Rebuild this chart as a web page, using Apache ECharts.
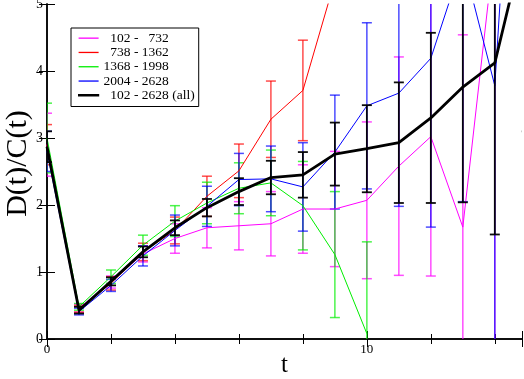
<!DOCTYPE html>
<html>
<head>
<meta charset="utf-8">
<script src="https://cdn.jsdelivr.net/npm/echarts@6/dist/echarts.min.js"></script>
<style>
  html, body { margin: 0; padding: 0; background: #fff; }
  #chart { width: 524px; height: 379px; }
</style>
</head>
<body>
<div id="chart"></div>
<script>
// one point per t = 0, 1, 2, ...
const seriesNames = ['102 - 732', '738 - 1362', '1368 - 1998', '2004 - 2628', '102 - 2628 (all)'];
const legendLabels = ['  102 -   732', '  738 - 1362', '1368 - 1998', '2004 - 2628', '  102 - 2628 (all)'];

const vals102 = [2.9, 0.46, 0.85, 1.27, 1.5, 1.66, 1.69, 1.72, 1.94, 1.94, 2.07, 2.58, 3.02, 1.67, 5.9];
const err102 = [0.47, 0.06, 0.09, 0.12, 0.22, 0.3, 0.36, 0.48, 0.66, 0.86, 1.17, 1.63, 2.08, 2.87, 6.5];

const vals738 = [2.9, 0.45, 0.83, 1.3, 1.62, 2.13, 2.51, 3.28, 3.71, 5.35];
const err738 = [0.3, 0.05, 0.1, 0.13, 0.2, 0.3, 0.4, 0.57, 0.75, 0.3];

const vals1368 = [3.0, 0.48, 0.93, 1.4, 1.76, 2.03, 2.25, 2.33, 1.99, 1.26, 0.08];
const err1368 = [0.52, 0.05, 0.1, 0.15, 0.23, 0.31, 0.38, 0.49, 0.66, 0.94, 1.37];

const vals2004 = [2.8, 0.41, 0.8, 1.24, 1.62, 1.98, 2.38, 2.39, 2.27, 2.79, 3.48, 3.67, 4.19, 5.65, 3.78, 11.4];
const err2004 = [0.3, 0.05, 0.09, 0.15, 0.23, 0.3, 0.39, 0.49, 0.66, 0.85, 1.24, 1.69, 2.52, 3.6, 4.5, 5];

const valsAll = [2.87, 0.43, 0.86, 1.3, 1.66, 1.96, 2.2, 2.41, 2.45, 2.76, 2.84, 2.93, 3.3, 3.76, 4.12, 6.1];
const errAll = [0.23, 0.05, 0.06, 0.08, 0.11, 0.13, 0.2, 0.25, 0.34, 0.47, 0.65, 0.9, 1.27, 1.72, 2.56, 3];

const allVals = [vals102, vals738, vals1368, vals2004, valsAll];
const allErrs = [err102, err738, err1368, err2004, errAll];
const colors = ['#ff00ff', '#ff0000', '#00ee00', '#0000ff', '#000000'];

const serif = 'Liberation Serif';

const chart = echarts.init(document.getElementById('chart'));

// 误差棒
const renderErrorBar = (params, api) => {
  const x = api.value(0);
  const y = api.value(1);
  const e = api.value(2);
  const top = api.coord([x, y + e]);
  const bot = api.coord([x, y - e]);
  const hw = 5;
  const isAll = params.seriesIndex === 9;
  const style = {
    stroke: api.visual('color'),
    lineWidth: isAll ? 1.8 : 1.5,
    opacity: isAll ? 0.95 : 0.7,
  };
  return {
    type: 'group',
    children: [
      { type: 'line', shape: { x1: top[0], y1: top[1], x2: bot[0], y2: bot[1] }, style },
      { type: 'line', shape: { x1: top[0] - hw, y1: top[1], x2: top[0] + hw, y2: top[1] }, style },
      { type: 'line', shape: { x1: bot[0] - hw, y1: bot[1], x2: bot[0] + hw, y2: bot[1] }, style },
    ],
  };
};

const lineSeries = allVals.map((vals, i) => ({
  name: seriesNames[i],
  type: 'line',
  data: vals.map((v, t) => [t, v]),
  symbol: 'none',
  clip: true,
  color: colors[i],
  lineStyle: { color: colors[i], width: i === 4 ? 2.8 : 1 },
  z: i === 4 ? 6 : 4,
}));

const errSeries = allVals.map((vals, i) => ({
  name: seriesNames[i],
  type: 'custom',
  renderItem: renderErrorBar,
  data: vals.map((v, t) => [t, v, allErrs[i][t]]),
  encode: { x: 0, y: 1 },
  clip: true,
  color: colors[i],
  z: i === 4 ? 5 : 3,
}));

const axisLineStyle = { color: '#000', width: 1.5 };

const option = {
  animation: false,
  backgroundColor: '#fff',
  textStyle: { fontFamily: serif },
  grid: { left: 47, top: 4, right: 2, bottom: 40, outerBoundsMode: 'none', containLabel: false },
  legend: {
    orient: 'vertical',
    left: 71,
    top: 28,
    padding: [3, 4, 4, 7],
    itemGap: 0,
    itemWidth: 20,
    itemHeight: 1.3,
    borderColor: '#000',
    borderWidth: 1,
    backgroundColor: '#fff',
    data: seriesNames.map((n, i) => ({
      name: n,
      icon: 'rect',
      itemStyle: i === 4 ? { color: '#000', borderColor: '#000', borderWidth: 1.2 } : { color: colors[i] },
    })),
    formatter: (name) => legendLabels[seriesNames.indexOf(name)],
    textStyle: { fontFamily: serif, fontSize: 13.5, color: '#000', lineHeight: 14.3 },
  },
  xAxis: [
    {
      type: 'value',
      min: 0,
      max: 14.85,
      interval: 10,
      name: 't',
      nameLocation: 'middle',
      nameGap: 14,
      nameMoveOverlap: false,
      nameTextStyle: { fontFamily: serif, fontSize: 25, color: '#000' },
      axisLine: { lineStyle: axisLineStyle },
      axisTick: { inside: true, length: 8, lineStyle: { color: '#000' } },
      minorTick: { show: true, splitNumber: 5, length: 5, lineStyle: { color: '#000' } },
      axisLabel: { fontFamily: serif, fontSize: 13, color: '#000', margin: 4, showMaxLabel: false },
      splitLine: { show: false },
    },
    {
      type: 'value',
      position: 'top',
      min: 0,
      max: 14.85,
      interval: 10,
      axisLine: { lineStyle: axisLineStyle },
      axisTick: { inside: true, length: 8, lineStyle: { color: '#000' } },
      minorTick: { show: true, splitNumber: 5, length: 5, lineStyle: { color: '#000' } },
      axisLabel: { show: false },
      splitLine: { show: false },
    },
  ],
  yAxis: [
    {
      type: 'value',
      min: 0,
      max: 5,
      interval: 1,
      name: 'D(t)/C(t)',
      nameLocation: 'middle',
      nameGap: 14,
      nameMoveOverlap: false,
      nameTextStyle: { fontFamily: serif, fontSize: 30, color: '#000', padding: [0, 0, 0, 16] },
      axisLine: { lineStyle: axisLineStyle },
      axisTick: { inside: true, length: 8, lineStyle: { color: '#000' } },
      axisLabel: { fontFamily: serif, fontSize: 14, color: '#000', margin: 4 },
      splitLine: { show: false },
    },
    {
      type: 'value',
      position: 'right',
      min: 0,
      max: 5,
      interval: 1,
      axisLine: { lineStyle: axisLineStyle },
      axisTick: { inside: true, length: 8, lineStyle: { color: '#000' } },
      axisLabel: { show: false },
      splitLine: { show: false },
    },
  ],
  series: [...lineSeries, ...errSeries],
};

// custom error series are indices 5..9; renderErrorBar checks for the black one
chart.setOption(option);
</script>
</body>
</html>
